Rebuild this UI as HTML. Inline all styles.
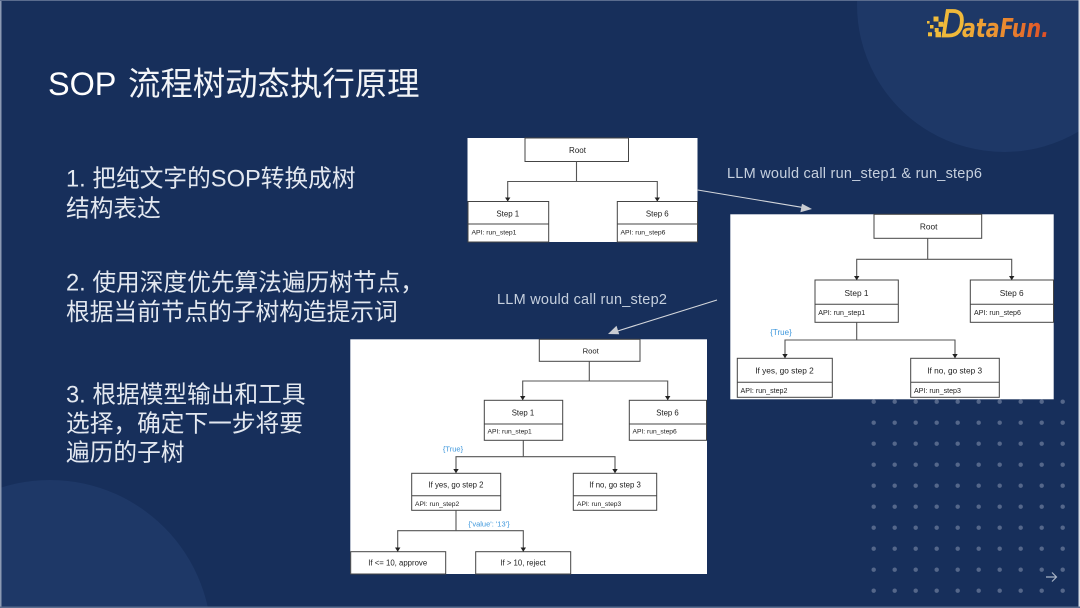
<!DOCTYPE html>
<html lang="zh"><head><meta charset="utf-8"><title>SOP 流程树动态执行原理</title>
<style>
html,body{margin:0;padding:0;width:1080px;height:608px;overflow:hidden;background:#172f5b}
svg{display:block}
text{font-family:"Liberation Sans","Noto Sans CJK SC",sans-serif}
.b{fill:none;stroke:#444;stroke-width:1}
.l{fill:none;stroke:#555;stroke-width:1.1}
.h{fill:#222}
.t{fill:#222;text-anchor:middle}
.a{fill:#222}
.tx{fill:#e3e8f0;font-size:23.7px}
.q{fill:#c6d0de;font-size:14.5px}
.bl{fill:#3d97dc;text-anchor:middle}
#dots circle{r:2.2px}
</style></head><body>
<svg width="1080" height="608" viewBox="0 0 1080 608" xmlns="http://www.w3.org/2000/svg">
<defs><linearGradient id="g" gradientUnits="userSpaceOnUse" x1="960" y1="0" x2="1050" y2="0"><stop offset="0" stop-color="#f0b43a"/><stop offset=".5" stop-color="#ea8a30"/><stop offset="1" stop-color="#dd4a26"/></linearGradient></defs>
<rect width="1080" height="608" fill="#172f5b"/>
<path d="M857.1 0A147 147 0 0 0 1080 130.8V0Z" fill="#1e3867"/>
<path d="M0 608V487.9A161.5 161.5 0 0 1 208 608Z" fill="#1e3867"/>
<rect x="0" y="0" width="1.5" height="608" fill="#8c9ab3"/>
<rect x="0" y="0" width="1080" height="1" fill="#5a6c8e"/>
<rect x="1078.5" y="0" width="1.5" height="608" fill="#d8dde6"/>
<rect x="0" y="606.5" width="1080" height="1.5" fill="#5a6c8e"/>

<g fill="#55678a" id="dots">
<circle cx="873.7" cy="401.7" r="2"/><circle cx="894.7" cy="401.7" r="2"/><circle cx="915.7" cy="401.7" r="2"/><circle cx="936.7" cy="401.7" r="2"/><circle cx="957.7" cy="401.7" r="2"/><circle cx="978.7" cy="401.7" r="2"/><circle cx="999.7" cy="401.7" r="2"/><circle cx="1020.7" cy="401.7" r="2"/><circle cx="1041.7" cy="401.7" r="2"/><circle cx="1062.7" cy="401.7" r="2"/>
<circle cx="873.7" cy="422.7" r="2"/><circle cx="894.7" cy="422.7" r="2"/><circle cx="915.7" cy="422.7" r="2"/><circle cx="936.7" cy="422.7" r="2"/><circle cx="957.7" cy="422.7" r="2"/><circle cx="978.7" cy="422.7" r="2"/><circle cx="999.7" cy="422.7" r="2"/><circle cx="1020.7" cy="422.7" r="2"/><circle cx="1041.7" cy="422.7" r="2"/><circle cx="1062.7" cy="422.7" r="2"/>
<circle cx="873.7" cy="443.7" r="2"/><circle cx="894.7" cy="443.7" r="2"/><circle cx="915.7" cy="443.7" r="2"/><circle cx="936.7" cy="443.7" r="2"/><circle cx="957.7" cy="443.7" r="2"/><circle cx="978.7" cy="443.7" r="2"/><circle cx="999.7" cy="443.7" r="2"/><circle cx="1020.7" cy="443.7" r="2"/><circle cx="1041.7" cy="443.7" r="2"/><circle cx="1062.7" cy="443.7" r="2"/>
<circle cx="873.7" cy="464.7" r="2"/><circle cx="894.7" cy="464.7" r="2"/><circle cx="915.7" cy="464.7" r="2"/><circle cx="936.7" cy="464.7" r="2"/><circle cx="957.7" cy="464.7" r="2"/><circle cx="978.7" cy="464.7" r="2"/><circle cx="999.7" cy="464.7" r="2"/><circle cx="1020.7" cy="464.7" r="2"/><circle cx="1041.7" cy="464.7" r="2"/><circle cx="1062.7" cy="464.7" r="2"/>
<circle cx="873.7" cy="485.7" r="2"/><circle cx="894.7" cy="485.7" r="2"/><circle cx="915.7" cy="485.7" r="2"/><circle cx="936.7" cy="485.7" r="2"/><circle cx="957.7" cy="485.7" r="2"/><circle cx="978.7" cy="485.7" r="2"/><circle cx="999.7" cy="485.7" r="2"/><circle cx="1020.7" cy="485.7" r="2"/><circle cx="1041.7" cy="485.7" r="2"/><circle cx="1062.7" cy="485.7" r="2"/>
<circle cx="873.7" cy="506.7" r="2"/><circle cx="894.7" cy="506.7" r="2"/><circle cx="915.7" cy="506.7" r="2"/><circle cx="936.7" cy="506.7" r="2"/><circle cx="957.7" cy="506.7" r="2"/><circle cx="978.7" cy="506.7" r="2"/><circle cx="999.7" cy="506.7" r="2"/><circle cx="1020.7" cy="506.7" r="2"/><circle cx="1041.7" cy="506.7" r="2"/><circle cx="1062.7" cy="506.7" r="2"/>
<circle cx="873.7" cy="527.7" r="2"/><circle cx="894.7" cy="527.7" r="2"/><circle cx="915.7" cy="527.7" r="2"/><circle cx="936.7" cy="527.7" r="2"/><circle cx="957.7" cy="527.7" r="2"/><circle cx="978.7" cy="527.7" r="2"/><circle cx="999.7" cy="527.7" r="2"/><circle cx="1020.7" cy="527.7" r="2"/><circle cx="1041.7" cy="527.7" r="2"/><circle cx="1062.7" cy="527.7" r="2"/>
<circle cx="873.7" cy="548.7" r="2"/><circle cx="894.7" cy="548.7" r="2"/><circle cx="915.7" cy="548.7" r="2"/><circle cx="936.7" cy="548.7" r="2"/><circle cx="957.7" cy="548.7" r="2"/><circle cx="978.7" cy="548.7" r="2"/><circle cx="999.7" cy="548.7" r="2"/><circle cx="1020.7" cy="548.7" r="2"/><circle cx="1041.7" cy="548.7" r="2"/><circle cx="1062.7" cy="548.7" r="2"/>
<circle cx="873.7" cy="569.7" r="2"/><circle cx="894.7" cy="569.7" r="2"/><circle cx="915.7" cy="569.7" r="2"/><circle cx="936.7" cy="569.7" r="2"/><circle cx="957.7" cy="569.7" r="2"/><circle cx="978.7" cy="569.7" r="2"/><circle cx="999.7" cy="569.7" r="2"/><circle cx="1020.7" cy="569.7" r="2"/><circle cx="1041.7" cy="569.7" r="2"/><circle cx="1062.7" cy="569.7" r="2"/>
<circle cx="873.7" cy="590.7" r="2"/><circle cx="894.7" cy="590.7" r="2"/><circle cx="915.7" cy="590.7" r="2"/><circle cx="936.7" cy="590.7" r="2"/><circle cx="957.7" cy="590.7" r="2"/><circle cx="978.7" cy="590.7" r="2"/><circle cx="999.7" cy="590.7" r="2"/><circle cx="1020.7" cy="590.7" r="2"/><circle cx="1041.7" cy="590.7" r="2"/><circle cx="1062.7" cy="590.7" r="2"/>
</g>
<path d="M1046 577H1056M1052 572.5L1056.5 577L1052 581.5" fill="none" stroke="#a9b4c6" stroke-width="1.2"/>

<!-- logo -->
<g fill="#f0bc3c">
<rect x="927" y="21" width="2.6" height="2.6"/><rect x="933.5" y="16.5" width="5" height="5"/><rect x="938.5" y="21.8" width="5" height="5"/><rect x="930" y="25" width="3.5" height="3.5"/><rect x="934.7" y="28" width="4" height="4"/><rect x="928" y="32.3" width="4" height="4"/><rect x="935.5" y="31.8" width="5.5" height="5.5"/>
</g>
<text x="941" y="37" style="font-family:'DejaVu Sans',sans-serif" font-size="37" font-style="italic" stroke="#f0b93a" stroke-width=".7" fill="#f0b93a" textLength="24" lengthAdjust="spacingAndGlyphs">D</text>
<text x="962" y="37" style="font-family:'DejaVu Sans',sans-serif" font-size="26" font-weight="700" font-style="italic" fill="url(#g)" textLength="87" lengthAdjust="spacingAndGlyphs">ataFun.</text>

<!-- left text -->
<text x="48" y="95" font-size="32.4" fill="#fff">SOP</text>
<text x="128" y="95" font-size="32.4" fill="#f3f5f8">流程树动态执行原理</text>
<text class="tx" x="66" y="186.5">1. 把纯文字的SOP转换成树</text>
<text class="tx" x="66" y="216.5">结构表达</text>
<text class="tx" x="66" y="290.5">2. 使用深度优先算法遍历树节点，</text>
<text class="tx" x="66" y="320">根据当前节点的子树构造提示词</text>
<text class="tx" x="66" y="402.5">3. 根据模型输出和工具</text>
<text class="tx" x="66" y="431.5">选择，确定下一步将要</text>
<text class="tx" x="66" y="460.5">遍历的子树</text>

<text class="q" x="727" y="178" textLength="255">LLM would call run_step1 &amp; run_step6</text>
<text class="q" x="497" y="304" textLength="170">LLM would call run_step2</text>

<!-- diagram 1 -->
<rect x="467.5" y="138" width="230" height="104" fill="#fff"/>
<rect class="b" x="525" y="138" width="103.5" height="23.5"/>
<text class="t" font-size="8" x="577.5" y="153">Root</text>
<path class="l" d="M576.5 161.5V181.5M507.7 201V181.5H657.3V201"/>
<path class="a" d="M505 197.5h5.4l-2.7 4zM654.6 197.5h5.4l-2.7 4z"/>
<rect class="b" x="468" y="201.5" width="80.7" height="40.5"/>
<path class="b" d="M468 224H548.7"/>
<text class="t" font-size="7.9" x="507.8" y="216.5">Step 1</text>
<text class="h" font-size="6.8" x="471.5" y="234.5">API: run_step1</text>
<rect class="b" x="617.3" y="201.5" width="80.2" height="40.5"/>
<path class="b" d="M617.3 224H697.5"/>
<text class="t" font-size="7.9" x="657.3" y="216.5">Step 6</text>
<text class="h" font-size="6.8" x="620.5" y="234.5">API: run_step6</text>

<!-- diagram 2 -->
<rect x="730.3" y="214.3" width="323.4" height="185" fill="#fff"/>
<rect class="b" x="874" y="214.3" width="107.7" height="24"/>
<text class="t" font-size="8.3" x="928.7" y="229.5">Root</text>
<path class="l" d="M927.7 238.3V259.3M856.7 280V259.3H1011.7V280"/>
<path class="a" d="M854 276h5.4l-2.7 4.3zM1009 276h5.4l-2.7 4.3z"/>
<rect class="b" x="815" y="280" width="83.3" height="42.3"/>
<path class="b" d="M815 304.3H898.3"/>
<text class="t" font-size="8.3" x="856.5" y="296">Step 1</text>
<text class="h" font-size="7.1" x="818.3" y="315">API: run_step1</text>
<rect class="b" x="970.3" y="280" width="83.2" height="42.3"/>
<path class="b" d="M970.3 304.3H1053.5"/>
<text class="t" font-size="8.3" x="1011.7" y="296">Step 6</text>
<text class="h" font-size="7.1" x="974" y="315">API: run_step6</text>
<path class="l" d="M856.7 322.3V340M785 358.3V340H955V358.3"/>
<path class="a" d="M782.3 354h5.4l-2.7 4.3zM952.3 354h5.4l-2.7 4.3z"/>
<text class="bl" font-size="8" x="781" y="335">{True}</text>
<rect class="b" x="737.3" y="358.3" width="95" height="39"/>
<path class="b" d="M737.3 382.3H832.3"/>
<text class="t" font-size="8.3" x="784.5" y="373.5">If yes, go step 2</text>
<text class="h" font-size="7.1" x="740.5" y="393">API: run_step2</text>
<rect class="b" x="910.7" y="358.3" width="88.6" height="39"/>
<path class="b" d="M910.7 382.3H999.3"/>
<text class="t" font-size="8.3" x="954.7" y="373.5">If no, go step 3</text>
<text class="h" font-size="7.1" x="914" y="393">API: run_step3</text>

<!-- diagram 3 -->
<rect x="350.3" y="339.3" width="356.7" height="234.7" fill="#fff"/>
<rect class="b" x="539.3" y="339.3" width="100.7" height="22"/>
<text class="t" font-size="7.7" x="590.7" y="353.5">Root</text>
<path class="l" d="M589.3 361.3V381M522.7 400.3V381H667.7V400.3"/>
<path class="a" d="M520 396h5.4l-2.7 4.3zM665 396h5.4l-2.7 4.3z"/>
<rect class="b" x="484.3" y="400.3" width="78.4" height="40"/>
<path class="b" d="M484.3 424H562.7"/>
<text class="t" font-size="7.8" x="523" y="415.5">Step 1</text>
<text class="h" font-size="6.7" x="487.5" y="433.5">API: run_step1</text>
<rect class="b" x="629.3" y="400.3" width="77.2" height="40"/>
<path class="b" d="M629.3 424H706.5"/>
<text class="t" font-size="7.8" x="667.5" y="415.5">Step 6</text>
<text class="h" font-size="6.7" x="632.5" y="433.5">API: run_step6</text>
<path class="l" d="M523.3 440.3V456.7M456 473.3V456.7H615V473.3"/>
<path class="a" d="M453.3 469h5.4l-2.7 4.3zM612.3 469h5.4l-2.7 4.3z"/>
<text class="bl" font-size="7.5" x="453" y="451.5">{True}</text>
<rect class="b" x="411.7" y="473.3" width="89" height="37"/>
<path class="b" d="M411.7 495.7H500.7"/>
<text class="t" font-size="7.8" x="456" y="487.5">If yes, go step 2</text>
<text class="h" font-size="6.7" x="415" y="506">API: run_step2</text>
<rect class="b" x="573.3" y="473.3" width="83.4" height="37"/>
<path class="b" d="M573.3 495.7H656.7"/>
<text class="t" font-size="7.8" x="615" y="487.5">If no, go step 3</text>
<text class="h" font-size="6.7" x="577" y="506">API: run_step3</text>
<path class="l" d="M456 510.3V530.7M397.7 551.7V530.7H523.3V551.7"/>
<path class="a" d="M395 547.5h5.4l-2.7 4.3zM520.6 547.5h5.4l-2.7 4.3z"/>
<text class="bl" font-size="7.5" x="489" y="526.5">{'value': '13'}</text>
<rect class="b" x="350.7" y="551.7" width="95" height="22.3"/>
<text class="t" font-size="7.8" x="397.7" y="565.5">If &lt;= 10, approve</text>
<rect class="b" x="475.7" y="551.7" width="95" height="22.3"/>
<text class="t" font-size="7.8" x="523" y="565.5">If &gt; 10, reject</text>

<!-- big arrows -->
<path d="M697.7 190L804 207.7" stroke="#d4d7dc" stroke-width="1.1" fill="none"/>
<path d="M812 209L802 203.7L800.4 212.3z" fill="#c9ccd2"/>
<path d="M717 300L616 331.5" stroke="#d4d7dc" stroke-width="1.1" fill="none"/>
<path d="M608 334L616.5 325.8L619.2 334.2z" fill="#c9ccd2"/>
</svg>
</body></html>
